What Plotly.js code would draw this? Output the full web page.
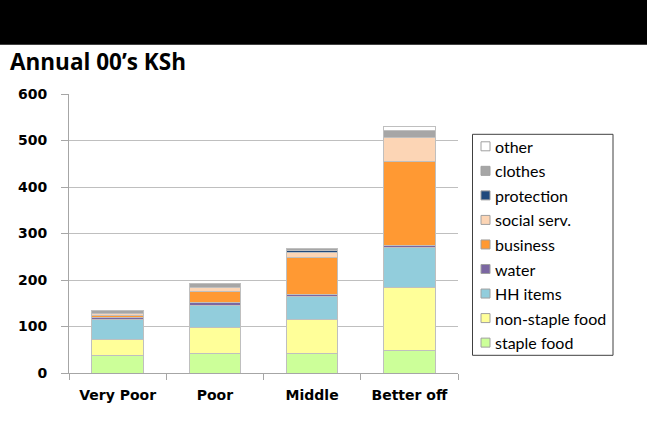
<!DOCTYPE html>
<html>
<head>
<meta charset="utf-8">
<script src="https://cdn.plot.ly/plotly-3.0.1.min.js"></script>
<style>html,body{margin:0;padding:0;background:#fff;}#chart{width:647px;height:423px;}</style>
</head>
<body>
<div id="chart"></div>
<script>
const categories = ["Very Poor", "Poor", "Middle", "Better off"];
const stapleFood    = [37, 42, 41, 49];
const nonStapleFood = [36, 55, 74, 135];
const hhItems       = [42, 49, 49, 86];
const water         = [4, 5, 5, 5];
const business      = [5, 24, 79, 179];
const socialServ    = [4, 9, 11, 52];
const protection    = [0.5, 0.5, 4, 0.5];
const clothes       = [5, 7, 5, 14];
const other         = [1, 2, 0.5, 9];
const yTicks = [0, 100, 200, 300, 400, 500, 600];

const series = [
  {name: "staple food", y: stapleFood, color: "#CCFF99"},
  {name: "non-staple food", y: nonStapleFood, color: "#FFFF99"},
  {name: "HH items", y: hhItems, color: "#92CDDC"},
  {name: "water", y: water, color: "#7B67A2"},
  {name: "business", y: business, color: "#FF9933"},
  {name: "social serv.", y: socialServ, color: "#FCD5B5"},
  {name: "protection", y: protection, color: "#1F497D"},
  {name: "clothes", y: clothes, color: "#A6A6A6"},
  {name: "other", y: other, color: "#FFFFFF"}
];

const traces = series.map(s => ({
  type: "bar",
  name: s.name,
  x: categories,
  y: s.y,
  marker: {color: s.color, line: {color: "#BFBFBF", width: 1}},
  showlegend: false
}));

// plot area in pixels (for placing the legend/shapes in paper coordinates)
const PL = 69, PR = 458, PT = 93.7, PB = 372.7;
const px = v => (v - PL) / (PR - PL);
const py = v => (PB - v) / (PB - PT);

const shapes = [{
  type: "rect", xref: "paper", yref: "paper",
  x0: px(0), x1: px(647), y0: py(44.5), y1: py(-2),
  fillcolor: "#000", line: {width: 0}, layer: "below"
}, {
  type: "rect", xref: "paper", yref: "paper",
  x0: px(472.5), x1: px(613), y0: py(355), y1: py(134),
  fillcolor: "rgba(0,0,0,0)", line: {color: "#404040", width: 1}
}];
const annotations = [];
const legendItems = series.slice().reverse();
legendItems.forEach((s, i) => {
  const cy = 146 + i * 24.54;
  shapes.push({
    type: "rect", xref: "paper", yref: "paper",
    x0: px(481), x1: px(490), y0: py(cy + 4.5), y1: py(cy - 4.5),
    fillcolor: s.color, line: {color: "#A0A0A0", width: 1}
  });
  annotations.push({
    xref: "paper", yref: "paper", x: px(493), y: py(cy),
    xanchor: "left", yanchor: "middle", showarrow: false,
    text: s.name, font: {family: "Lato", size: 16, color: "#000"}
  });
});

const layout = {
  width: 647, height: 423,
  margin: {l: PL, r: 647 - PR, t: PT, b: 423 - PB},
  paper_bgcolor: "#fff", plot_bgcolor: "#fff",
  barmode: "stack",
  bargap: 0.47,
  showlegend: false,
  title: {
    text: "<b>Annual 00’s KSh</b>",
    font: {family: "Open Sans", size: 22.5, color: "#000"},
    xref: "container", yref: "container",
    x: 10/647, xanchor: "left",
    y: 1 - 62/423, yanchor: "middle"
  },
  xaxis: {
    type: "category",
    showline: true, linecolor: "#A6A6A6", linewidth: 1,
    ticks: "outside", tickson: "boundaries", ticklen: 6, tickcolor: "#A6A6A6",
    tickfont: {family: "DejaVu Sans", size: 14, color: "#000", weight: "bold"},
    ticklabelstandoff: 9,
    showgrid: false
  },
  yaxis: {
    range: [0, 600],
    tickvals: yTicks,
    ticktext: yTicks.map(String),
    showline: true, linecolor: "#A6A6A6", linewidth: 1,
    ticks: "outside", ticklen: 7, tickcolor: "#A6A6A6",
    showgrid: true, gridcolor: "#BFBFBF", gridwidth: 1,
    zeroline: false,
    tickfont: {family: "DejaVu Sans", size: 14, color: "#000", weight: "bold"},
    ticklabelstandoff: 11
  },
  shapes: shapes,
  annotations: annotations
};

Plotly.newPlot("chart", traces, layout, {displayModeBar: false, staticPlot: true});
</script>
</body>
</html>
